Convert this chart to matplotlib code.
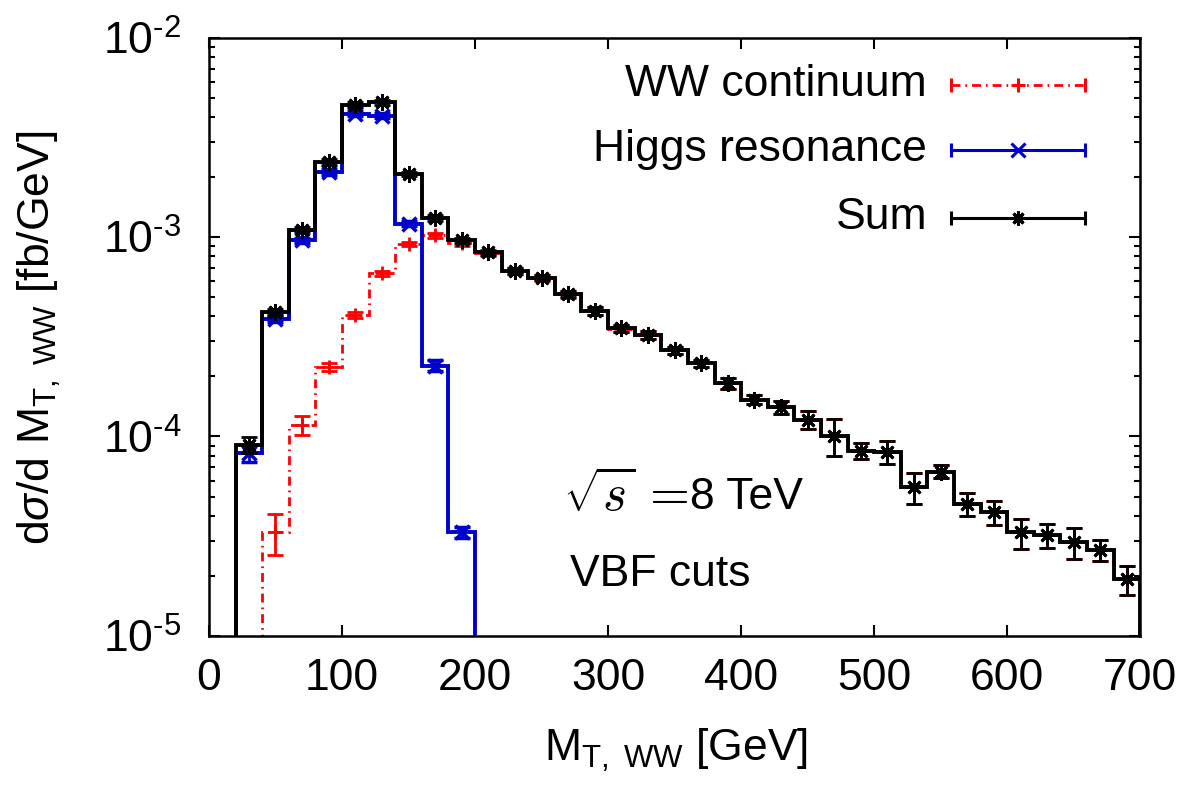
import matplotlib
matplotlib.use('Agg')
import matplotlib.pyplot as plt
import numpy as np
from matplotlib.ticker import FixedLocator, FixedFormatter, LogLocator, NullFormatter

plt.rcParams['font.family'] = ['Liberation Sans', 'DejaVu Sans']
plt.rcParams['mathtext.fontset'] = 'custom'
plt.rcParams['mathtext.rm'] = 'Liberation Sans'
plt.rcParams['mathtext.it'] = 'Liberation Sans:italic'

# bin edges of the M_T,WW histogram (20 GeV bins)
sum_edges = np.arange(20, 701, 20)
higgs_edges = np.arange(20, 201, 20)
ww_edges = np.arange(40, 701, 20)

sum_vals = [9.1e-5, 4.23e-4, 1.09e-3, 2.38e-3, 4.61e-3, 4.75e-3, 2.07e-3, 1.245e-3,
            9.62e-4, 8.41e-4, 6.78e-4, 6.27e-4, 5.18e-4, 4.28e-4, 3.49e-4, 3.23e-4,
            2.70e-4, 2.33e-4, 1.85e-4, 1.53e-4, 1.40e-4, 1.21e-4, 1.01e-4, 8.49e-5,
            8.39e-5, 5.57e-5, 6.67e-5, 4.59e-5, 4.17e-5, 3.30e-5, 3.21e-5, 2.95e-5,
            2.70e-5, 1.92e-5]
sum_err = [0.8e-5, 1.5e-5, 3e-5, 8e-5, 1.4e-4, 1.4e-4, 5e-5, 4e-5,
           3e-5, 2.5e-5, 2.5e-5, 2e-5, 2e-5, 2e-5, 1.5e-5, 1.5e-5,
           1.2e-5, 1.0e-5, 1.2e-5, 0.8e-5, 1.0e-5, 1.25e-5, 2.1e-5, 0.74e-5,
           1.08e-5, 1.0e-5, 0.5e-5, 0.6e-5, 0.57e-5, 0.56e-5, 0.45e-5, 0.52e-5,
           0.32e-5, 0.32e-5]

higgs_vals = [8.24e-5, 3.88e-4, 9.62e-4, 2.13e-3, 4.16e-3, 4.07e-3, 1.17e-3, 2.27e-4, 3.30e-5]
higgs_err = [0.8e-5, 1.3e-5, 3e-5, 7e-5, 1.2e-4, 1.2e-4, 3e-5, 1.5e-5, 0.2e-5]

ww_vals = [3.30e-5, 1.14e-4, 2.24e-4, 4.07e-4, 6.59e-4, 9.23e-4, 1.02e-3, 9.33e-4,
           8.30e-4, 6.75e-4, 6.25e-4, 5.16e-4, 4.27e-4, 3.48e-4, 3.22e-4,
           2.70e-4, 2.33e-4, 1.85e-4, 1.53e-4, 1.40e-4, 1.21e-4, 1.01e-4, 8.49e-5,
           8.39e-5, 5.57e-5, 6.67e-5, 4.59e-5, 4.17e-5, 3.30e-5, 3.21e-5, 2.95e-5,
           2.70e-5, 1.92e-5]
ww_err = [0.77e-5, 1.2e-5, 1.0e-5, 1.5e-5, 2e-5, 2.5e-5, 3e-5, 3e-5,
          2.5e-5, 2.5e-5, 2e-5, 2e-5, 2e-5, 1.5e-5, 1.5e-5,
          1.2e-5, 1.0e-5, 1.2e-5, 0.8e-5, 1.0e-5, 1.25e-5, 2.1e-5, 0.74e-5,
          1.08e-5, 1.0e-5, 0.5e-5, 0.6e-5, 0.57e-5, 0.56e-5, 0.45e-5, 0.52e-5,
          0.32e-5, 0.32e-5]

labels = ['WW continuum', 'Higgs resonance', 'Sum']
colors = ['#ff0000', '#0000cc', '#000000']

ytick_vals = [1e-5, 1e-4, 1e-3, 1e-2]
ytick_labels = [r'10$^{\text{-5}}$', r'10$^{\text{-4}}$',
                r'10$^{\text{-3}}$', r'10$^{\text{-2}}$']

FS = 32
BASE = 1e-9

fig = plt.figure(figsize=(11.94, 7.86), dpi=100)
ax = fig.add_axes([0.175, 0.191, 0.78, 0.761])

dashdot = (0, (3.2, 1.8, 0.6, 1.8))

def centres(e):
    return 0.5 * (e[:-1] + e[1:])

# WW continuum
ax.stairs(ww_vals, ww_edges, baseline=BASE, color=colors[0], lw=2.0, linestyle=dashdot, zorder=2)
ax.errorbar(centres(ww_edges), ww_vals, yerr=ww_err, fmt='+', color=colors[0], ms=10, mew=2,
            elinewidth=2, capsize=5.5, capthick=2, zorder=2)

# Higgs resonance
ax.stairs(higgs_vals, higgs_edges, baseline=BASE, color=colors[1], lw=2.8, zorder=3)
ax.errorbar(centres(higgs_edges), higgs_vals, yerr=higgs_err, fmt='x', color=colors[1], ms=10, mew=2.5,
            elinewidth=2, capsize=5.5, capthick=2, zorder=3)

# Sum
ax.stairs(sum_vals, sum_edges, baseline=BASE, color=colors[2], lw=2.8, zorder=4)
ax.errorbar(centres(sum_edges), sum_vals, yerr=sum_err, fmt='none', color=colors[2],
            elinewidth=2, capsize=5.5, capthick=2, zorder=4)
ax.plot(centres(sum_edges), sum_vals, linestyle='none', marker=(8, 2, 0), color=colors[2],
        ms=12, mew=2.0, zorder=5)

ax.set_yscale('log')
ax.set_xlim(0, 700)
ax.set_ylim(1e-5, 1e-2)

ax.xaxis.set_major_locator(FixedLocator(np.arange(0, 701, 100)))
ax.yaxis.set_major_locator(FixedLocator(ytick_vals))
ax.yaxis.set_major_formatter(FixedFormatter(ytick_labels))
ax.yaxis.set_minor_locator(LogLocator(base=10, subs=np.arange(2, 10)))
ax.yaxis.set_minor_formatter(NullFormatter())
ax.tick_params(which='both', direction='in', top=True, right=True, width=1.5, labelsize=FS)
ax.tick_params(which='major', length=8)
ax.tick_params(which='minor', length=4.5)
ax.tick_params(axis='x', pad=16)
ax.tick_params(axis='y', pad=20)
for s in ax.spines.values():
    s.set_linewidth(1.8)

# legend drawn by hand: text left, sample line on the right with end caps
leg_y = [0.921, 0.813, 0.699]
x0, x1 = 0.797, 0.941
mk = ['+', 'x', (8, 2, 0)]
for lab, c, y, m in zip(labels, colors, leg_y, mk):
    ax.text(0.771, y, lab, transform=ax.transAxes, ha='right', va='center', fontsize=FS)
    ls = dashdot if c == colors[0] else '-'
    ax.plot([x0, x1], [y, y], transform=ax.transAxes, color=c, lw=2.2 if ls == '-' else 2.0,
            linestyle=ls, clip_on=False)
    ax.plot([x0, x1], [y, y], transform=ax.transAxes, color=c, linestyle='none', marker='|',
            ms=10, mew=2.2, clip_on=False)
    ax.plot([(x0 + x1) / 2], [y], transform=ax.transAxes, color=c, linestyle='none', marker=m,
            ms=10, mew=2.2, clip_on=False)

ax.text(0.380, 0.232, r'$\sqrt{s}\,=$', transform=ax.transAxes, ha='left', va='center',
        fontsize=37, math_fontfamily='cm')
ax.text(0.516, 0.232, '8 TeV', transform=ax.transAxes, ha='left', va='center', fontsize=FS)
ax.text(0.388, 0.102, 'VBF cuts', transform=ax.transAxes, ha='left', va='center', fontsize=FS)

fig.text(0.5665, 1 - 750 / 786, r'M$_{\mathregular{T,\ WW}}$ [GeV]', ha='center', va='center', fontsize=FS)
fig.text(40 / 1194, 1 - 338 / 786, r'd$\sigma$/d M$_{\mathregular{T,\ WW}}$ [fb/GeV]', rotation=90,
         ha='center', va='center', fontsize=FS)

fig.savefig('out.png', dpi=100)
